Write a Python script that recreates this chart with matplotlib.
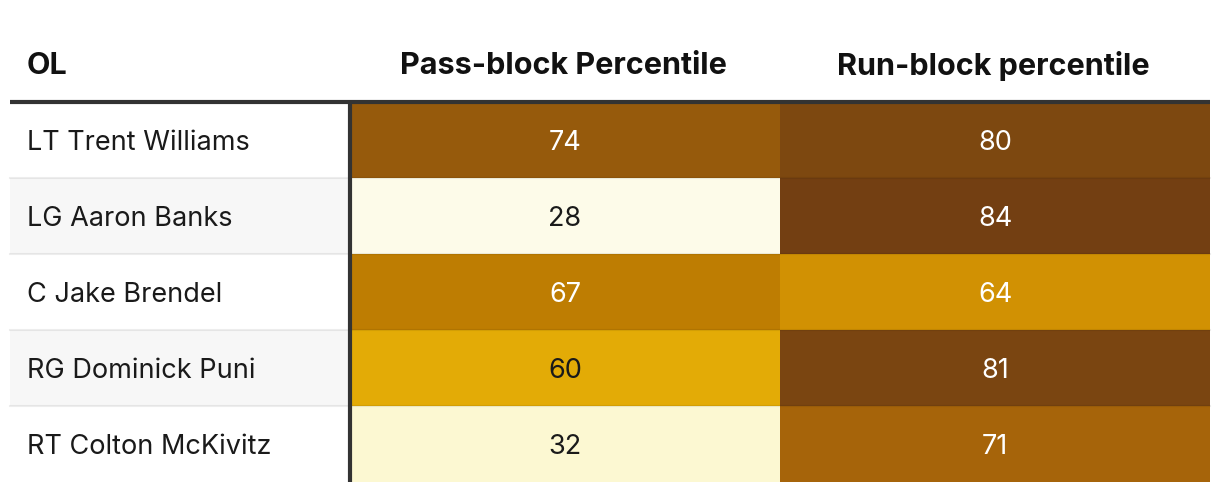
import numpy as np
import matplotlib.pyplot as plt
from matplotlib.colors import LinearSegmentedColormap, Normalize

players = ["LT Trent Williams", "LG Aaron Banks", "C Jake Brendel",
           "RG Dominick Puni", "RT Colton McKivitz"]
pass_block = [74, 28, 67, 60, 32]
run_block = [80, 84, 64, 81, 71]
headers = ["OL", "Pass-block Percentile", "Run-block percentile"]

# colour scale
anchors = [(28, "#fdfbe9"), (32, "#fcf8d2"), (60, "#e3ab06"), (64, "#d19103"),
           (67, "#bf7e02"), (71, "#a6640a"), (74, "#965a0c"), (80, "#7d4810"),
           (84, "#733f12")]
vmin, vmax = anchors[0][0], anchors[-1][0]
cmap = LinearSegmentedColormap.from_list(
    "ol", [((v - vmin) / (vmax - vmin), c) for v, c in anchors])
norm = Normalize(vmin, vmax)

plt.rcParams["font.family"] = ["Inter", "DejaVu Sans"]

W, H = 1220, 492
fig = plt.figure(figsize=(W / 100, H / 100), dpi=100)
ax = fig.add_axes([0, 0, 1, 1])
ax.set_xlim(0, W)
ax.set_ylim(H, 0)
ax.axis("off")

left, right = 10, 1210
col_x = [left, 350, 780, right]
top, row_h = 102, 76
n = len(players)
row_edges = top + row_h * np.arange(n + 1)

# striped first column
for i in range(n):
    if i % 2 == 1:
        ax.add_patch(plt.Rectangle((col_x[0], row_edges[i]), col_x[1] - col_x[0],
                                   row_h, color="#f7f7f7", lw=0, zorder=0))

vals = np.array([pass_block, run_block]).T
ax.pcolormesh(col_x[1:], row_edges, vals, cmap=cmap, norm=norm, zorder=1)

# row separators
for y in row_edges[1:-1]:
    ax.plot([left, right], [y, y], color="black", lw=1.5, alpha=0.07, zorder=2)

ax.plot([left, right], [top, top], color="#333333", lw=3, zorder=3,
        solid_capstyle="butt")
ax.plot([col_x[1], col_x[1]], [top, row_edges[-1]], color="#333333", lw=3,
        zorder=3, solid_capstyle="butt")

# headers
hy = 66
ax.text(27, hy, headers[0], fontsize=22, fontweight="bold", ha="left",
        va="center", color="#111111")
for j in range(2):
    ax.text((col_x[j + 1] + col_x[j + 2]) / 2 - 2, hy, headers[j + 1],
            fontsize=22, fontweight="bold", ha="center", va="center",
            color="#111111")

for i, name in enumerate(players):
    yc = row_edges[i] + row_h / 2 + 3
    ax.text(27, yc, name, fontsize=19.5, ha="left", va="center", color="#1a1a1a")
    for j in range(2):
        v = vals[i, j]
        tc = "white" if v >= 62 else "#1a1a1a"
        ax.text((col_x[j + 1] + col_x[j + 2]) / 2, yc, str(v), fontsize=19.5,
                ha="center", va="center", color=tc, zorder=4)

fig.savefig("out.png", dpi=100, facecolor="white")
